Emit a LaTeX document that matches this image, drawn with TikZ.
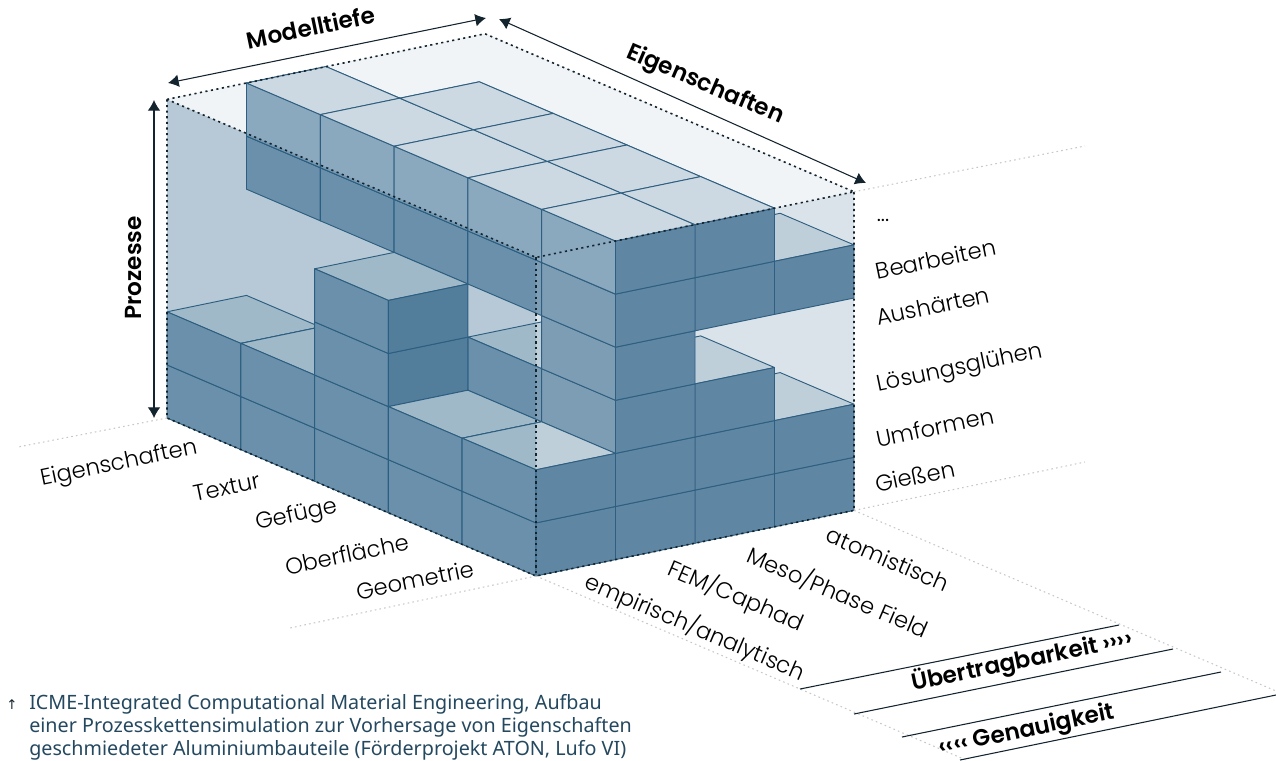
\documentclass[tikz,border=0pt]{standalone}
\usepackage{fontspec}
\setmainfont{Poppins}[UprightFont=* Light, BoldFont=* SemiBold]
\newfontfamily\arrowfont{DejaVu Sans}
\newfontfamily\notefont{Noto Sans}
\usetikzlibrary{arrows.meta}
\definecolor{edgeblue}{HTML}{2F5F80}
\definecolor{inkdark}{HTML}{14242F}
\definecolor{wallpale}{HTML}{DBE3EA}
\definecolor{lidpale}{HTML}{F0F4F7}
\definecolor{topcell}{HTML}{BFCFDA}
\definecolor{topupper}{HTML}{CDD9E2}
\definecolor{leftcell}{HTML}{7D9DB5}
\definecolor{leftupper}{HTML}{8AA8BE}
\definecolor{frontcell}{HTML}{5F86A3}
\definecolor{tintblue}{HTML}{1F5C80}
\definecolor{notecol}{HTML}{24485F}
\tikzset{
  voxelgrid/.style={shift={(167,418)}, x={(59.625pt,12.3pt)}, y={(55.35pt,-23.7pt)}, z={(0pt,39.825pt)}},
  celltile/.style={draw=edgeblue, line width=0.7pt, line join=round},
  boxdot/.style={draw=inkdark, line width=1.2pt, dash pattern=on 1.6pt off 2.6pt},
  axisdot/.style={draw=black!22, line width=0.8pt, dash pattern=on 1.2pt off 2.4pt},
  barline/.style={draw=inkdark, line width=0.8pt},
  dimarrow/.style={draw=inkdark, line width=0.8pt, {Latex[length=8pt,width=9.5pt]}-{Latex[length=8pt,width=9.5pt]}},
  axislabel/.style={font=\fontsize{17}{19}\selectfont, inner sep=0pt},
  headlabel/.style={font=\fontsize{17.4}{19}\selectfont\bfseries, inner sep=0pt}
}
\newcommand{\topface}[4]{\filldraw[celltile, fill=#4] (#1,#2,#3+1) -- (#1+1,#2,#3+1) -- (#1+1,#2+1,#3+1) -- (#1,#2+1,#3+1) -- cycle;}
\newcommand{\leftface}[4]{\filldraw[celltile, fill=#4] (#1,#2,#3) -- (#1,#2+1,#3) -- (#1,#2+1,#3+1) -- (#1,#2,#3+1) -- cycle;}
\newcommand{\frontface}[4]{\filldraw[celltile, fill=#4] (#1,#2+1,#3) -- (#1+1,#2+1,#3) -- (#1+1,#2+1,#3+1) -- (#1,#2+1,#3+1) -- cycle;}
\begin{document}
\begin{tikzpicture}[x=0.75pt, y=-0.75pt]
    \useasboundingbox (0,0) rectangle (1276,760);
    \begin{scope}[voxelgrid]
      \coordinate (lidleft) at (0,0,6);
      \coordinate (lidback) at (4,0,6);
      \coordinate (lidright) at (4,5,6);
      \coordinate (lidfront) at (0,5,6);
      \coordinate (floorleft) at (0,0,0);
      \coordinate (floorfront) at (0,5,0);
      \coordinate (floorright) at (4,5,0);
      \fill[wallpale] (lidleft) -- (lidback) -- (lidright) -- (floorright) -- (floorfront) -- (floorleft) -- cycle;
      \fill[lidpale] (lidleft) -- (lidback) -- (lidright) -- (lidfront) -- cycle;
      \foreach \i/\j/\k in {3/4/0, 3/4/1, 3/4/4,
          2/1/4, 2/1/5, 2/2/4, 2/2/5, 2/3/4, 2/3/5, 2/4/0, 2/4/1, 2/4/2, 2/4/4, 2/4/5,
          1/0/4, 1/0/5, 1/1/4, 1/1/5, 1/2/4, 1/2/5, 1/3/0, 1/3/1, 1/3/2, 1/3/4, 1/3/5,
          1/4/0, 1/4/1, 1/4/2, 1/4/3, 1/4/4, 1/4/5,
          0/0/0, 0/0/1, 0/1/0, 0/1/1, 0/2/0, 0/2/1, 0/2/2, 0/2/3, 0/3/0, 0/3/1, 0/4/0, 0/4/1} {
        \topface{\i}{\j}{\k}{topcell}
        \leftface{\i}{\j}{\k}{leftcell}
        \frontface{\i}{\j}{\k}{frontcell}
      }
      \foreach \j in {0, 1, 2, 3, 4} {
        \leftface{1}{\j}{5}{leftupper}
        \topface{1}{\j}{5}{topupper}
      }
      \foreach \j in {1, 2, 3, 4} {
        \topface{2}{\j}{5}{topupper}
      }
    \end{scope}
    \fill[tintblue, fill opacity=0.19] (lidleft) -- (lidfront) -- (floorfront) -- (floorleft) -- cycle;
    \draw[boxdot] (lidleft) -- (lidback) -- (lidright) -- (lidfront) -- cycle;
    \draw[boxdot] (lidleft) -- (floorleft) -- (floorfront) -- (floorright) -- (lidright);
    \draw[boxdot] (lidfront) -- (floorfront);
    \coordinate (dimA) at (168,83);
    \coordinate (dimB) at (486,18);
    \coordinate (dimC) at (499,19);
    \coordinate (dimD) at (866,183);
    \coordinate (dimE) at (154,100);
    \coordinate (dimF) at (154,418);
    \draw[dimarrow] (dimA) -- (dimB);
    \draw[dimarrow] (dimC) -- (dimD);
    \draw[dimarrow] (dimE) -- (dimF);
    \foreach \a/\b/\x/\y in {lidright/axisA/1085/146, floorright/axisB/1085/462, floorright/axisC/1276/691,
        floorfront/axisD/966/760, floorfront/axisE/290/628, floorleft/axisF/18/447} {
      \coordinate (\b) at (\x,\y);
      \draw[axisdot] (\a) -- (\b);
    }
    \foreach \a/\x/\y/\u/\v in {ruleA/800/689/1119/625, ruleB/854/714/1173/649, ruleC/902/737/1221/672, ruleD/960/760/1276/695} {
      \coordinate (\a s) at (\x,\y);
      \coordinate (\a e) at (\u,\v);
      \draw[barline] (\a s) -- (\a e);
    }
    \node[headlabel, rotate=11.7] (depth) at (311,27) {Modelltiefe};
    \node[headlabel, rotate=-23.2] (props) at (705,85) {Eigenschaften};
    \node[headlabel, rotate=90] (procs) at (134,268) {Prozesse};
    \node[axislabel] (more) at (883,220) {{...}};
    \foreach \n/\x/\y/\t in {mill/936/259/Bearbeiten, hard/933/306/Aushärten, soak/960/369/Lösungsglühen,
        form/935/427/Umformen, cast/915/476/Gießen, prop/119/464/Eigenschaften, text/227/487/Textur,
        grain/297/516/Gefüge, surf/347/554/Oberfläche, geom/415/580/Geometrie} {
      \node[axislabel, rotate=11.7] (\n) at (\x,\y) {\t};
    }
    \foreach \n/\x/\y/\t in {atom/888/559/atomistisch, meso/838/592/Meso\slash Phase Field, fem/736/596/FEM\slash Caphad,
        emp/695/627/empirisch\slash analytisch} {
      \node[axislabel, rotate=-23.2] (\n) at (\x,\y) {\t};
    }
    \node[headlabel, rotate=11.7] (transfer) at (1022,661) {Übertragbarkeit ››››};
    \node[headlabel, rotate=11.7] (accuracy) at (1027,731) {‹‹‹‹ Genauigkeit};
    \node[inner sep=0pt, font=\arrowfont\fontsize{10}{11}\selectfont, text=inkdark] (notemark) at (12,705) {↑};
    \node[right=0pt, inner sep=0pt, align=left, text=notecol, font=\notefont\fontsize{14.8}{17.2}\selectfont] (note) at (29,727)
      {ICME-Integrated Computational Material Engineering, Aufbau\\
       einer Prozesskettensimulation zur Vorhersage von Eigenschaften\\
       geschmiedeter Aluminiumbauteile (Förderprojekt ATON, Lufo VI)};
  \end{tikzpicture}
\end{document}
